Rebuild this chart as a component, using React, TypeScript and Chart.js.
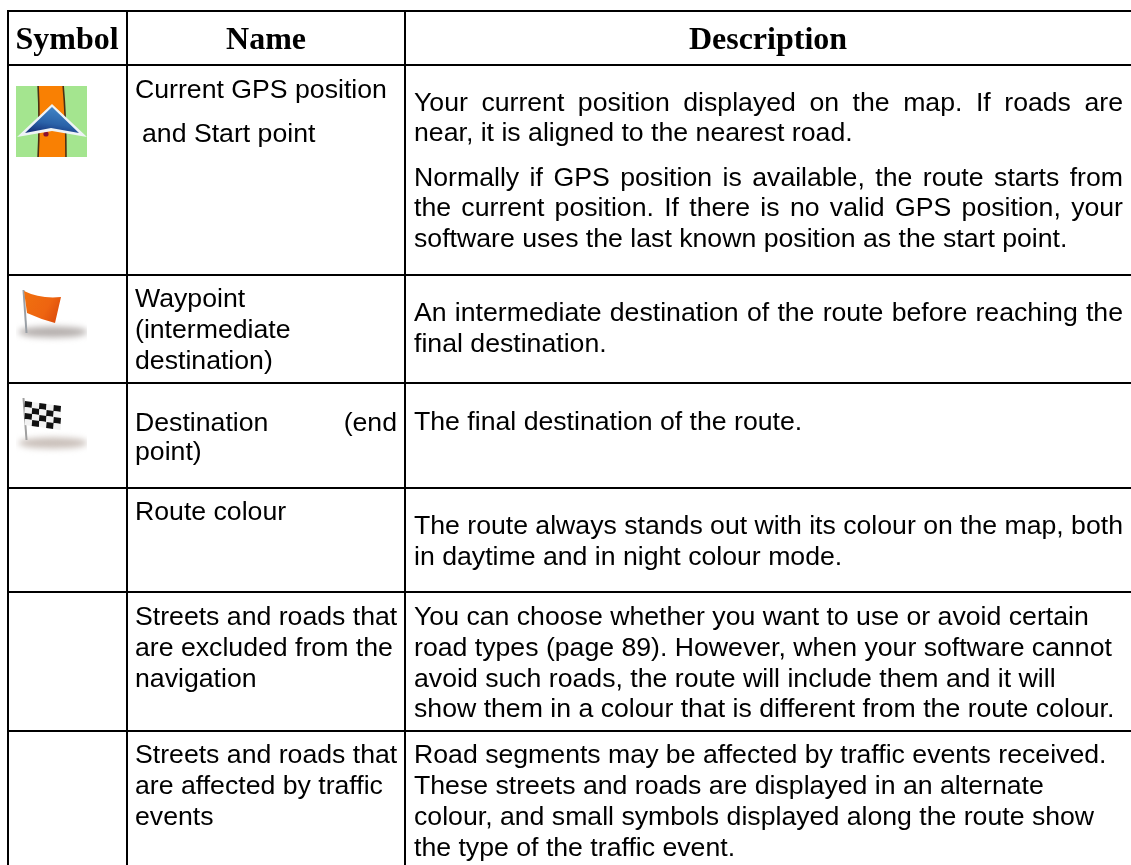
import React, { useEffect, useRef } from "react";
import { Chart, registerables } from "chart.js";

Chart.register(...registerables);

const PAGE_W = 1131;
const PAGE_H = 865;
const TABLE_LEFT = 7;
const TABLE_TOP = 10;
const columnEdges = [8, 127, 405];
const rowEdges = [11, 65, 275, 383, 488, 592, 731];

type Line = { t: string; x: number; y: number; to?: number };
const C2 = 135;
const C3 = 414;
const R = 1123;

const headerLines = [
  { t: "Symbol", x: 67, y: 49 },
  { t: "Name", x: 266, y: 49 },
  { t: "Description", x: 768, y: 49 },
];

const nameLines: Line[] = [
  { t: "Current GPS position", x: C2, y: 98 },
  { t: "and Start point", x: 142, y: 142 },
  { t: "Waypoint", x: C2, y: 307 },
  { t: "(intermediate", x: C2, y: 338 },
  { t: "destination)", x: C2, y: 369 },
  { t: "Destination (end", x: C2, y: 431, to: 397 },
  { t: "point)", x: C2, y: 460 },
  { t: "Route colour", x: C2, y: 520 },
  { t: "Streets and roads that", x: C2, y: 625 },
  { t: "are excluded from the", x: C2, y: 656 },
  { t: "navigation", x: C2, y: 687 },
  { t: "Streets and roads that", x: C2, y: 763 },
  { t: "are affected by traffic", x: C2, y: 794 },
  { t: "events", x: C2, y: 825 },
];

const descriptionLines: Line[] = [
  { t: "Your current position displayed on the map. If roads are", x: C3, y: 111, to: R },
  { t: "near, it is aligned to the nearest road.", x: C3, y: 141 },
  { t: "Normally if GPS position is available, the route starts from", x: C3, y: 185.5, to: R },
  { t: "the current position. If there is no valid GPS position, your", x: C3, y: 216, to: R },
  { t: "software uses the last known position as the start point.", x: C3, y: 246.5 },
  { t: "An intermediate destination of the route before reaching the", x: C3, y: 321, to: R },
  { t: "final destination.", x: C3, y: 352 },
  { t: "The final destination of the route.", x: C3, y: 430 },
  { t: "The route always stands out with its colour on the map, both", x: C3, y: 534, to: R },
  { t: "in daytime and in night colour mode.", x: C3, y: 565 },
  { t: "You can choose whether you want to use or avoid certain", x: C3, y: 625 },
  { t: "road types (page 89). However, when your software cannot", x: C3, y: 656 },
  { t: "avoid such roads, the route will include them and it will", x: C3, y: 687 },
  { t: "show them in a colour that is different from the route colour.", x: C3, y: 717 },
  { t: "Road segments may be affected by traffic events received.", x: C3, y: 763 },
  { t: "These streets and roads are displayed in an alternate", x: C3, y: 794 },
  { t: "colour, and small symbols displayed along the route show", x: C3, y: 825 },
  { t: "the type of the traffic event.", x: C3, y: 856 },
];

const symbolPoints = [
  { x: 51.5, y: 121.5 },
  { x: 51.5, y: 318.5 },
  { x: 51.5, y: 428.5 },
];

function makeCanvas(w: number, h: number) {
  const c = document.createElement("canvas");
  c.width = w;
  c.height = h;
  return { c, g: c.getContext("2d") as CanvasRenderingContext2D };
}

function poly(g: CanvasRenderingContext2D, pts: number[][]) {
  g.beginPath();
  pts.forEach((p, i) => (i ? g.lineTo(p[0], p[1]) : g.moveTo(p[0], p[1])));
  g.closePath();
}

function gpsIcon() {
  const { c, g } = makeCanvas(71, 71);
  g.fillStyle = "#A4E58F";
  g.fillRect(0, 0, 71, 71);
  g.filter = "blur(0.5px)";
  g.beginPath();
  g.moveTo(22, -2);
  g.quadraticCurveTo(24, 35, 22, 73);
  g.lineTo(50, 73);
  g.quadraticCurveTo(50, 30, 47, -2);
  g.closePath();
  g.fillStyle = "#F98003";
  g.fill();
  g.strokeStyle = "#4A2F14";
  g.lineWidth = 1.6;
  g.stroke();
  g.fillStyle = "#8A1030";
  g.beginPath();
  g.arc(30, 48, 2.6, 0, 7);
  g.fill();
  poly(g, [[36, 18], [71, 51], [36, 45], [1, 51]]);
  g.fillStyle = "#EEF3F6";
  g.fill();
  poly(g, [[36, 21], [63, 47], [35, 42], [9, 47]]);
  const gr = g.createLinearGradient(34, 22, 30, 47);
  gr.addColorStop(0, "#3F82C4");
  gr.addColorStop(0.6, "#2A62A8");
  gr.addColorStop(1, "#16357E");
  g.fillStyle = gr;
  g.fill();
  return c;
}

function shadow(g: CanvasRenderingContext2D, cy: number, color: string) {
  g.save();
  g.filter = "blur(3px)";
  g.fillStyle = color;
  g.beginPath();
  g.ellipse(37, cy, 35, 5.5, 0, 0, 7);
  g.fill();
  g.restore();
}

function orangeFlag() {
  const { c, g } = makeCanvas(71, 71);
  shadow(g, 49, "#B5AFAD");
  g.filter = "blur(0.5px)";
  g.strokeStyle = "#9AA0A6";
  g.lineWidth = 2;
  g.beginPath();
  g.moveTo(7.5, 7);
  g.lineTo(10.5, 50);
  g.stroke();
  const gr = g.createLinearGradient(8, 12, 46, 34);
  gr.addColorStop(0, "#F0700F");
  gr.addColorStop(0.6, "#EE6410");
  gr.addColorStop(1, "#D9480A");
  g.beginPath();
  g.moveTo(8, 8);
  g.quadraticCurveTo(24, 16, 45, 14);
  g.lineTo(39, 40);
  g.quadraticCurveTo(24, 36, 11, 30);
  g.closePath();
  g.fillStyle = gr;
  g.fill();
  return c;
}

function checkerFlag() {
  const { c, g } = makeCanvas(71, 71);
  shadow(g, 50, "#C9BFB9");
  g.filter = "blur(0.6px)";
  g.strokeStyle = "#A0A0A0";
  g.lineWidth = 2;
  g.beginPath();
  g.moveTo(7.5, 5);
  g.lineTo(10.5, 47);
  g.stroke();
  const ox = 9;
  const oy = 8;
  const s = 7.2;
  const h = 6;
  for (let i = 0; i < 5; i++) {
    for (let j = 0; j < 4; j++) {
      const x = ox + i * s;
      const y = oy + i * 1.0 + j * h;
      poly(g, [[x, y], [x + s, y + 1], [x + s - 0.5, y + h + 1], [x - 0.5, y + h]]);
      g.fillStyle = (i + j) % 2 === 0 ? "#111" : "#F2F2F2";
      g.fill();
    }
  }
  return c;
}

const tablePlugin = {
  id: "tableText",
  afterDatasetsDraw(chart: any) {
    const { ctx, scales } = chart;
    const X = (v: number) => scales.x.getPixelForValue(v);
    const Y = (v: number) => scales.y.getPixelForValue(v);
    ctx.save();
    ctx.fillStyle = "#000";
    ctx.textBaseline = "alphabetic";
    ctx.font = 'bold 32px "Liberation Serif"';
    ctx.textAlign = "center";
    headerLines.forEach((l) => ctx.fillText(l.t, X(l.x), Y(l.y)));
    ctx.textAlign = "left";
    ctx.font = '26.67px "Liberation Sans"';
    [...nameLines, ...descriptionLines].forEach((l) => {
      ctx.wordSpacing = "0px";
      if (l.to) {
        const gaps = l.t.split(" ").length - 1;
        const extra = (X(l.to) - X(l.x) - ctx.measureText(l.t).width) / gaps;
        ctx.wordSpacing = `${extra}px`;
      }
      ctx.fillText(l.t, X(l.x), Y(l.y));
    });
    ctx.restore();
  },
};

export default function App() {
  const ref = useRef<HTMLCanvasElement>(null);
  useEffect(() => {
    document.body.style.margin = "0";
    document.body.style.background = "#fff";
    const chart = new Chart(ref.current as HTMLCanvasElement, {
      type: "scatter",
      data: {
        datasets: [
          {
            label: "Symbol",
            data: symbolPoints,
            pointStyle: [gpsIcon(), orangeFlag(), checkerFlag()] as any,
            pointRadius: 30,
            showLine: false,
            clip: false,
          },
        ],
      },
      options: {
        responsive: false,
        animation: false,
        layout: { autoPadding: false, padding: { left: TABLE_LEFT, top: TABLE_TOP, right: 0, bottom: 0 } },
        events: [],
        plugins: { legend: { display: false }, tooltip: { enabled: false }, title: { display: false } },
        scales: {
          x: {
            type: "linear",
            min: TABLE_LEFT,
            max: PAGE_W,
            border: { display: false },
            ticks: { display: false },
            afterBuildTicks: (a: any) => {
              a.ticks = columnEdges.map((value) => ({ value }));
            },
            grid: { color: "#000", lineWidth: 2, drawTicks: false },
          },
          y: {
            type: "linear",
            reverse: true,
            min: TABLE_TOP,
            max: PAGE_H,
            border: { display: false },
            ticks: { display: false },
            afterBuildTicks: (a: any) => {
              a.ticks = rowEdges.map((value) => ({ value }));
            },
            grid: { color: "#000", lineWidth: 2, drawTicks: false },
          },
        },
      },
      plugins: [tablePlugin],
    } as any);
    return () => chart.destroy();
  }, []);
  return <canvas ref={ref} width={PAGE_W} height={PAGE_H} style={{ display: "block" }} />;
}
